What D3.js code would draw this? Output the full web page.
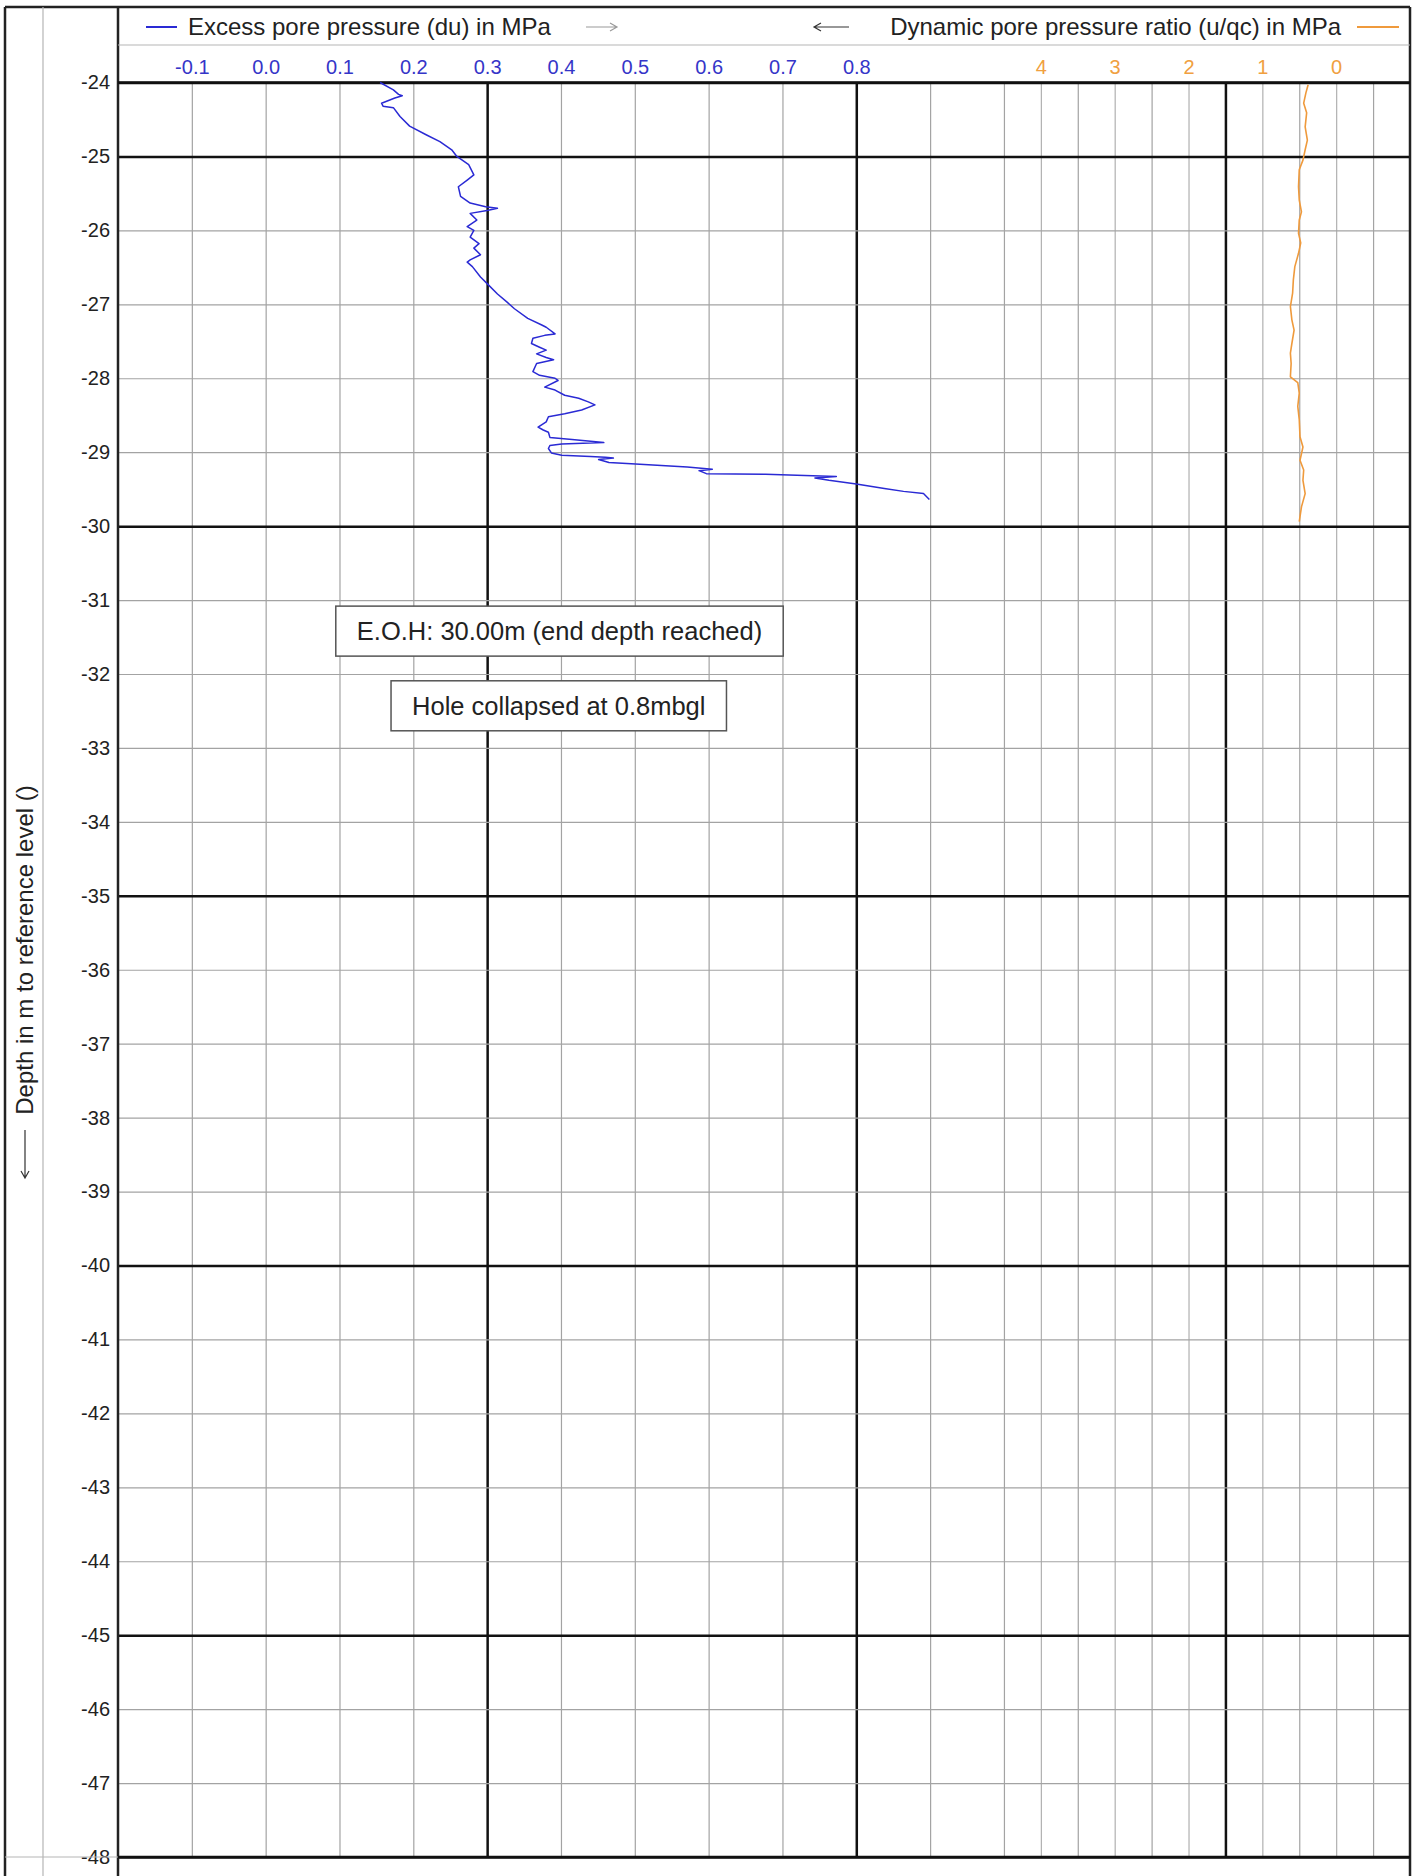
<!DOCTYPE html>
<html lang="en">
<head>
    <meta charset="UTF-8">
    <title>CPT pore pressure</title>
    <style>
        body { margin: 0; background: #fff; }
        svg { display: block; font-family: "Liberation Sans", Arial, sans-serif; }
    </style>
    <script src="https://d3js.org/d3.v7.min.js"></script>
</head>
<body>
    <div id="svg"></div>
    <script>
        // excess pore pressure du (MPa) by depth
        const duDepth = [-24.00, -24.10, -24.16, -24.18, -24.21, -24.28, -24.32, -24.34, -24.46, -24.59,
            -24.71, -24.80, -24.91, -25.00, -25.11, -25.25, -25.32, -25.41, -25.54, -25.63,
            -25.68, -25.70, -25.73, -25.77, -25.86, -25.95, -26.00, -26.09, -26.18, -26.24,
            -26.33, -26.40, -26.43, -26.49, -26.63, -26.72, -26.86, -26.97, -27.06, -27.19,
            -27.28, -27.31, -27.40, -27.42, -27.46, -27.53, -27.58, -27.62, -27.67, -27.72,
            -27.75, -27.80, -27.91, -27.96, -28.00, -28.03, -28.12, -28.16, -28.23, -28.27,
            -28.32, -28.36, -28.43, -28.48, -28.52, -28.59, -28.66, -28.70, -28.73, -28.80,
            -28.83, -28.87, -28.89, -28.91, -28.95, -29.01, -29.04, -29.06, -29.07, -29.08,
            -29.10, -29.14, -29.16, -29.20, -29.23, -29.25, -29.29, -29.30, -29.33, -29.35,
            -29.38, -29.43, -29.49, -29.53, -29.56, -29.64]
        const duValue = [0.155, 0.173, 0.180, 0.185, 0.175, 0.157, 0.159, 0.173, 0.182, 0.195,
            0.218, 0.236, 0.252, 0.259, 0.275, 0.282, 0.273, 0.261, 0.264, 0.277,
            0.298, 0.314, 0.300, 0.277, 0.286, 0.273, 0.282, 0.277, 0.289, 0.282,
            0.291, 0.277, 0.273, 0.280, 0.291, 0.300, 0.314, 0.327, 0.337, 0.355,
            0.374, 0.380, 0.392, 0.378, 0.362, 0.360, 0.371, 0.380, 0.367, 0.380,
            0.390, 0.367, 0.362, 0.371, 0.392, 0.396, 0.378, 0.392, 0.405, 0.424,
            0.437, 0.446, 0.428, 0.405, 0.383, 0.380, 0.369, 0.376, 0.383, 0.385,
            0.415, 0.458, 0.401, 0.385, 0.383, 0.387, 0.401, 0.440, 0.460, 0.471,
            0.451, 0.465, 0.501, 0.571, 0.605, 0.587, 0.597, 0.677, 0.773, 0.744,
            0.763, 0.800, 0.838, 0.864, 0.891, 0.899]

        // dynamic pore pressure ratio u/qc by depth
        const ratioDepth = [-24.03, -24.14, -24.28, -24.41, -24.60, -24.78, -24.91, -25.05, -25.18, -25.41,
            -25.59, -25.75, -25.86, -26.04, -26.17, -26.31, -26.49, -26.67, -26.85, -27.03,
            -27.21, -27.35, -27.53, -27.66, -27.80, -27.98, -28.06, -28.20, -28.38, -28.56,
            -28.79, -28.93, -29.11, -29.24, -29.38, -29.56, -29.74, -29.94]
        const ratioValue = [0.38, 0.41, 0.44, 0.40, 0.42, 0.39, 0.42, 0.45, 0.50, 0.51,
            0.50, 0.47, 0.50, 0.51, 0.48, 0.51, 0.56, 0.58, 0.59, 0.62,
            0.60, 0.57, 0.60, 0.62, 0.61, 0.62, 0.52, 0.50, 0.52, 0.50,
            0.49, 0.45, 0.49, 0.44, 0.45, 0.42, 0.47, 0.50]

        const depthTicks = d3.range(-24, -49, -1)
        const duTicks = [-0.1, 0.0, 0.1, 0.2, 0.3, 0.4, 0.5, 0.6, 0.7, 0.8]
        const ratioTicks = [4, 3, 2, 1, 0]

        const notes = [
            { text: "E.O.H: 30.00m (end depth reached)", du: 0.398, depth: -31.42 },
            { text: "Hole collapsed at 0.8mbgl", du: 0.397, depth: -32.43 }
        ]

        const duLabel = "Excess pore pressure (du) in MPa"
        const ratioLabel = "Dynamic pore pressure ratio (u/qc) in MPa"
        const depthLabel = "Depth in m to reference level ()"

        const boxWidth = 1415, boxHeight = 1876
        const plotLeft = 118, plotRight = 1410, plotTop = 82.5, plotBottom = 1857
        const frameTop = 7, frameLeft = 5, sepY = 45, stripX = 43

        const blue = "#2a2ad4", orange = "#ef9a3c"

        const svg = d3.select("#svg").append("svg").attr("width", boxWidth).attr("height", boxHeight)

        const yScale = d3.scaleLinear().domain([-24, -48]).range([plotTop, plotBottom])
        const xDu = d3.scaleLinear().domain([-0.2, 1.55]).range([plotLeft, plotRight])
        const xRatio = d3.scaleLinear().domain([4.5, -1]).range([xDu(1.0), xDu(1.55)])

        const isMajorDu = v => Math.abs(Math.round((v + 0.2) * 10) % 5) === 0
        const isMajorDepth = d => d % 5 === 0 || d === -24 || d === -48

        // vertical grid (du)
        const gridDu = d3.range(-1, 18).map(i => Math.round(i * 10) / 100 * 1).map(v => v)
        const duGridVals = d3.range(-1, 18).map(i => +(i / 10).toFixed(1))
        svg.append("g").attr("class", "gridDu")
            .attr("transform", `translate(0, ${plotTop})`)
            .call(d3.axisTop(xDu).tickValues(duGridVals).tickSize(-(plotBottom - plotTop)).tickFormat(""))
            .call(g => g.select(".domain").remove())
            .call(g => g.selectAll(".tick line")
                .attr("stroke", d => isMajorDu(d) ? "#111" : "#a3a3a3")
                .attr("stroke-width", d => isMajorDu(d) ? 2.5 : 1.2))

        // extra grid on the ratio side
        svg.append("g").attr("class", "gridRatio")
            .attr("transform", `translate(0, ${plotTop})`)
            .call(d3.axisTop(xRatio).tickValues(ratioTicks).tickSize(-(plotBottom - plotTop)).tickFormat(""))
            .call(g => g.select(".domain").remove())
            .call(g => g.selectAll(".tick line").attr("stroke", "#b0b0b0").attr("stroke-width", 1.2))

        // horizontal grid + depth labels
        svg.append("g").attr("class", "yAxis")
            .attr("transform", `translate(${plotLeft}, 0)`)
            .call(d3.axisLeft(yScale).tickValues(depthTicks).tickSize(-(plotRight - plotLeft)).tickPadding(8).tickFormat(d => String(d)))
            .call(g => g.select(".domain").remove())
            .call(g => g.selectAll(".tick line")
                .attr("stroke", d => isMajorDepth(d) ? "#111" : "#a3a3a3")
                .attr("stroke-width", d => isMajorDepth(d) ? 2.5 : 1.2))
            .call(g => g.selectAll(".tick text").attr("font-size", 20).attr("fill", "#222"))

        // du tick labels
        svg.append("g").attr("class", "xDuAxis")
            .attr("transform", `translate(0, ${plotTop})`)
            .call(d3.axisTop(xDu).tickValues(duTicks).tickSize(0).tickPadding(9).tickFormat(d => d.toFixed(1)))
            .call(g => g.select(".domain").remove())
            .call(g => g.selectAll(".tick text").attr("font-size", 20).attr("fill", "#3535c8"))

        // ratio tick labels
        svg.append("g").attr("class", "xRatioAxis")
            .attr("transform", `translate(0, ${plotTop})`)
            .call(d3.axisTop(xRatio).tickValues(ratioTicks).tickSize(0).tickPadding(9).tickFormat(d => String(d)))
            .call(g => g.select(".domain").remove())
            .call(g => g.selectAll(".tick text").attr("font-size", 20).attr("fill", "#f0a040"))

        // frame
        const frame = svg.append("g").attr("fill", "none")
        frame.append("line").attr("x1", frameLeft).attr("x2", plotRight).attr("y1", frameTop).attr("y2", frameTop)
            .attr("stroke", "#222").attr("stroke-width", 2.5)
        frame.append("line").attr("x1", frameLeft).attr("x2", frameLeft).attr("y1", frameTop).attr("y2", boxHeight)
            .attr("stroke", "#222").attr("stroke-width", 2.5)
        frame.append("line").attr("x1", plotRight).attr("x2", plotRight).attr("y1", frameTop).attr("y2", boxHeight)
            .attr("stroke", "#222").attr("stroke-width", 2.5)
        frame.append("line").attr("x1", plotLeft).attr("x2", plotLeft).attr("y1", frameTop).attr("y2", boxHeight)
            .attr("stroke", "#222").attr("stroke-width", 2.5)
        frame.append("line").attr("x1", stripX).attr("x2", stripX).attr("y1", frameTop).attr("y2", boxHeight)
            .attr("stroke", "#b5b5b5").attr("stroke-width", 1.2)
        frame.append("line").attr("x1", plotLeft).attr("x2", plotRight).attr("y1", sepY).attr("y2", sepY)
            .attr("stroke", "#b5b5b5").attr("stroke-width", 1.2)
        frame.append("line").attr("x1", frameLeft).attr("x2", plotLeft).attr("y1", plotBottom).attr("y2", plotBottom)
            .attr("stroke", "#b5b5b5").attr("stroke-width", 1.2)
        frame.append("line").attr("x1", plotLeft).attr("x2", plotRight).attr("y1", plotTop).attr("y2", plotTop)
            .attr("stroke", "#111").attr("stroke-width", 2.5)
        frame.append("line").attr("x1", plotLeft).attr("x2", plotRight).attr("y1", plotBottom).attr("y2", plotBottom)
            .attr("stroke", "#111").attr("stroke-width", 2.5)

        // curves
        const duLine = d3.line().x(i => xDu(duValue[i])).y(i => yScale(duDepth[i]))
        svg.append("path").attr("d", duLine(d3.range(duDepth.length)))
            .attr("fill", "none").attr("stroke", blue).attr("stroke-width", 1.5).attr("stroke-linejoin", "round")

        const ratioLine = d3.line().x(i => xRatio(ratioValue[i])).y(i => yScale(ratioDepth[i])).curve(d3.curveLinear)
        svg.append("path").attr("d", ratioLine(d3.range(ratioDepth.length)))
            .attr("fill", "none").attr("stroke", orange).attr("stroke-width", 1.6).attr("stroke-linejoin", "round")

        // annotation boxes
        notes.forEach(n => {
            const g = svg.append("g").attr("transform", `translate(${xDu(n.du)}, ${yScale(n.depth)})`)
            const r = g.append("rect").attr("fill", "#fff").attr("stroke", "#555").attr("stroke-width", 1.5)
            const t = g.append("text").attr("text-anchor", "middle").attr("dy", "0.36em")
                .attr("font-size", 25.5).attr("fill", "#222").text(n.text)
            const w = t.node().getComputedTextLength() + 42
            r.attr("x", -w / 2).attr("y", -25).attr("width", w).attr("height", 50)
        })

        // legend
        function arrow(g, x1, x2, y, color) {
            const dir = x2 > x1 ? 1 : -1
            g.append("path")
                .attr("d", `M${x1},${y}L${x2},${y}M${x2 - dir * 7},${y - 4}L${x2},${y}L${x2 - dir * 7},${y + 4}`)
                .attr("fill", "none").attr("stroke", color).attr("stroke-width", 1.2)
        }
        const legendY = 27
        const legend = svg.append("g")
        legend.append("line").attr("x1", 146).attr("x2", 177).attr("y1", legendY).attr("y2", legendY)
            .attr("stroke", blue).attr("stroke-width", 2)
        legend.append("text").attr("x", 188).attr("y", legendY + 8).attr("font-size", 24).attr("fill", "#222").text(duLabel)
        arrow(legend, 586, 617, legendY, "#9a9a9a")
        arrow(legend, 849, 814, legendY, "#333")
        legend.append("text").attr("x", 1341).attr("y", legendY + 8).attr("text-anchor", "end")
            .attr("font-size", 24).attr("fill", "#222").text(ratioLabel)
        legend.append("line").attr("x1", 1357).attr("x2", 1399).attr("y1", legendY).attr("y2", legendY)
            .attr("stroke", orange).attr("stroke-width", 2)

        // depth axis label
        const yl = svg.append("g").attr("transform", `translate(0, 950) rotate(-90)`)
        yl.append("text").attr("x", 0).attr("y", 33).attr("text-anchor", "middle")
            .attr("font-size", 24).attr("fill", "#222").text(depthLabel)
        arrow(yl, -180, -228, 25, "#333")
    </script>
</body>
</html>
